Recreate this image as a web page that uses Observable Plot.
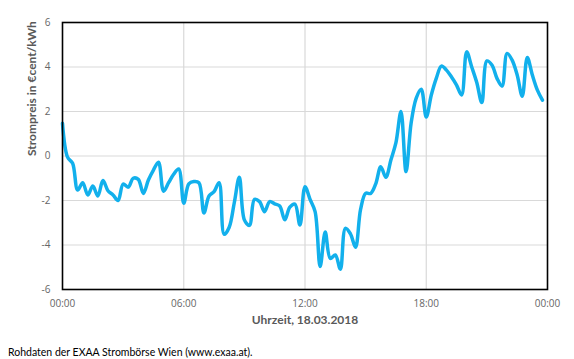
<!DOCTYPE html>
<html>
<head>
<meta charset="utf-8">
<script src="https://cdn.jsdelivr.net/npm/d3@7"></script>
<script src="https://cdn.jsdelivr.net/npm/@observablehq/plot@0.6"></script>
<style>
  body { margin: 0; background: #fff; }
  #chart svg { display: block; }
  #caption { font-family: Lato, "Open Sans", sans-serif; font-size: 10.5px; color: #000; margin: 5px 0 0 8px; line-height: 14px; }
</style>
</head>
<body>
<div id="chart"></div>
<div id="caption">Rohdaten der EXAA Strombörse Wien (www.exaa.at).</div>
<script>
const times = [
  "00:00","00:15","00:30","00:45","01:00","01:15","01:30","01:45",
  "02:00","02:15","02:30","02:45","03:00","03:15","03:30","03:45",
  "04:00","04:15","04:30","04:45","05:00","05:15","05:30","05:45",
  "06:00","06:15","06:30","06:45","07:00","07:15","07:30","07:45",
  "08:00","08:15","08:30","08:45","09:00","09:15","09:30","09:45",
  "10:00","10:15","10:30","10:45","11:00","11:15","11:30","11:45",
  "12:00","12:15","12:30","12:45","13:00","13:15","13:30","13:45",
  "14:00","14:15","14:30","14:45","15:00","15:15","15:30","15:45",
  "16:00","16:15","16:30","16:45","17:00","17:15","17:30","17:45",
  "18:00","18:15","18:30","18:45","19:00","19:15","19:30","19:45",
  "20:00","20:15","20:30","20:45","21:00","21:15","21:30","21:45",
  "22:00","22:15","22:30","22:45","23:00","23:15","23:30","23:45"
];
const prices = [
  1.47, -0.05, -0.33, -1.53, -1.2, -1.75, -1.35, -1.8,
  -1.1, -1.56, -1.75, -2.0, -1.26, -1.4, -1.0, -1.05,
  -1.68, -1.08, -0.63, -0.28, -1.58, -1.2, -0.82, -0.58,
  -2.12, -1.25, -1.15, -1.2, -2.56, -1.8, -1.6, -1.2,
  -3.52, -3.2, -2.1, -0.96, -2.87, -3.12, -1.95, -2.05,
  -2.5, -2.05, -2.15, -2.25, -2.87, -2.3, -2.16, -3.1,
  -1.38, -1.95, -2.5, -4.97, -3.42, -4.6, -4.45, -5.09,
  -3.25, -3.5, -4.1, -2.4, -1.68, -1.68, -1.25, -0.48,
  -0.96, -0.18, 0.6, 2.0, -0.7, 1.47, 2.59, 3.0,
  1.75, 2.74, 3.5, 4.04, 3.86, 3.55, 3.19, 2.74,
  4.68, 4.0, 3.3, 2.4, 4.27, 4.09, 3.49, 3.14,
  4.61, 4.31, 3.64, 2.69, 4.43, 3.64, 2.96, 2.51
];
const xTicks = [0, 6, 12, 18, 24];
const xTickLabels = ["00:00", "06:00", "12:00", "18:00", "00:00"];
const yTicks = [-6, -4, -2, 0, 2, 4, 6];
const xTitle = "Uhrzeit, 18.03.2018";
const yTitle = "Strompreis in €cent/kWh";

const toHours = s => { const [h, m] = s.split(":").map(Number); return h + m / 60; };
const data = times.map((t, i) => ({ t: toHours(t), v: prices[i] }));

const chart = Plot.plot({
  width: 574,
  height: 340,
  marginLeft: 62,
  marginRight: 27,
  marginTop: 22,
  marginBottom: 51,
  style: { fontFamily: "'Open Sans', sans-serif", fontSize: "10px", color: "#666", background: "#fff" },
  x: { domain: [0, 24], ticks: xTicks },
  y: { domain: [-6, 6], ticks: yTicks },
  marks: [
    Plot.gridY(yTicks, { stroke: "#d9d9d9", strokeOpacity: 1, strokeWidth: 1.2 }),
    Plot.gridX([6, 12, 18], { stroke: "#d9d9d9", strokeOpacity: 1, strokeWidth: 1.2 }),
    Plot.axisX(xTicks, { tickSize: 0, tickPadding: 10, label: null, tickFormat: (d, i) => xTickLabels[i], fill: "#666" }),
    Plot.axisY(yTicks, { tickSize: 0, tickPadding: 12, label: null, tickFormat: d => String(d), fill: "#666" }),
    Plot.line(data, { x: "t", y: "v", stroke: "#12b0ec", strokeWidth: 3.5, curve: "catmull-rom" }),
    Plot.frame({ stroke: "#000", strokeWidth: 1.6 }),
    Plot.text([xTitle], { frameAnchor: "bottom", dy: 34, text: d => d, fontWeight: "bold", fontSize: 12, fill: "#595959", fontFamily: "Lato, sans-serif" }),
    Plot.text([yTitle], { frameAnchor: "left", dx: -30, rotate: -90, text: d => d, fontWeight: "bold", fontSize: 12, fill: "#595959", fontFamily: "Lato, sans-serif" })
  ]
});
document.getElementById("chart").appendChild(chart);
</script>
</body>
</html>
